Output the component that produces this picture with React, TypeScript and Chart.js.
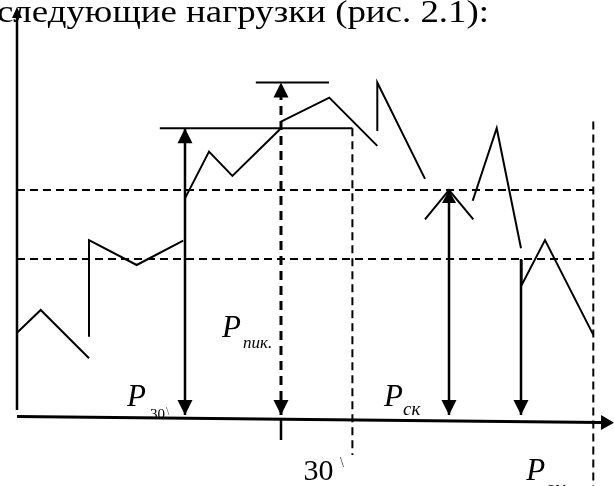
import React, { useEffect, useRef } from "react";
import { Chart, registerables } from "chart.js";

Chart.register(...registerables);

const TITLE = "следующие нагрузки (рис. 2.1):";

// Load graph P(t), drawn as separate pieces: [time, load]
const curveA = [[0, 27.9], [3.95, 35.5], [12, 19.4]];
const curveB = [[12, 26.6], [12, 58.8], [19.95, 50.5], [27.7, 58.6]];
const curveC = [[28, 72.7], [32, 88.3], [35.9, 80.2], [44, 96.1]];
const curveD = [[44, 98.3], [52.05, 106.3], [60.05, 90.2]];
const curveE = [[60.05, 95.2], [60.05, 111.3], [68, 79.2]];
const curveF = [[75.95, 71.9], [79.95, 96.1], [84, 56.1]];
const curveG = [[84.1, 52.2], [84.1, 43.8], [88, 58.8], [96.05, 27.2]];

// characteristic loads
const P_30 = 96.1;
const P_PEAK = 111.3;
const P_SK = 75.5;
const P_SM = 52.5;

// characteristic times
const T_P30 = 28;
const T_PEAK = 44;
const T_SK = 72;
const T_SM = 84;
const T_30MIN = 55.9;
const T_SHIFT = 96.05;

// extents of the reference lines
const P30_LINE_T = [23.8, 55.9];
const PEAK_LINE_T = [39.8, 52];
const SK_WINGS = [[68, 65.7], [72, 75.5], [76.05, 65.7]];
const SHIFT_LINE_TOP = 98.3;
const MIN30_LINE_BOTTOM = -12.8;
const PEAK_TICK = [-0.5, -7.8];
const ARROW_BASE = 0.5;

// axes
const X_AXIS_END = [99.5, -2.07];
const Y_AXIS_SPAN = [2.2, 136.5];

// scale bounds
const T_MIN = -2.8333;
const T_MAX = 99.5;
const P_MIN = -23.1667;
const P_MAX = 138.8333;

type Pt = number[];

function line(points: Pt[], width: number, dash: number[] = []) {
  return {
    data: points.map(([x, y]) => ({ x, y })),
    showLine: true,
    pointRadius: 0,
    pointHoverRadius: 0,
    borderColor: "#000",
    backgroundColor: "#000",
    borderWidth: width,
    borderDash: dash,
    borderCapStyle: "butt",
    borderJoinStyle: "miter",
    fill: false,
    tension: 0,
  };
}

const SERIF = "'Liberation Serif', 'Times New Roman', serif";

const overlay = {
  id: "overlay",
  beforeDatasetsDraw(chart: any) {
    const { ctx, scales } = chart;
    const X = (v: number) => scales.x.getPixelForValue(v);
    const Y = (v: number) => scales.y.getPixelForValue(v);
    ctx.save();
    ctx.fillStyle = "#000";
    ctx.textBaseline = "alphabetic";
    const put = (text: string, font: string, px: number, py: number, align = "left", color = "#000") => {
      ctx.font = font;
      ctx.textAlign = align;
      ctx.fillStyle = color;
      ctx.fillText(text, px, py);
    };
    // heading text (wide serif, spans from the left edge to x≈489)
    ctx.save();
    ctx.font = `31px ${SERIF}`;
    const w = ctx.measureText(TITLE).width;
    ctx.translate(chart.chartArea.left + 489, chart.chartArea.top + 22);
    ctx.scale(492 / w, 1);
    ctx.textAlign = "right";
    ctx.fillText(TITLE, 0, 0);
    ctx.restore();

    const big = `italic 31px ${SERIF}`;
    // P30'
    put("P", big, X(T_P30) - 58, Y(0) - 10.5);
    put("30", `15px ${SERIF}`, X(T_P30) - 35, Y(0) + 2.5);
    put("\\", `12px ${SERIF}`, X(T_P30) - 19, Y(0) - 1, "left", "#444");
    // P пик.
    put("P", big, X(T_PEAK) - 59, Y(0) - 79.5);
    put("пик.", `italic 17px ${SERIF}`, X(T_PEAK) - 38, Y(0) - 68.5);
    // P ск
    put("P", big, X(T_SK) - 65, Y(0) - 10);
    put("ск", `italic 19px ${SERIF}`, X(T_SK) - 46, Y(0) - 1);
    // 30'
    put("30", `30px ${SERIF}`, X(T_30MIN) - 49, Y(0) + 63.5);
    put("\\", `14px ${SERIF}`, X(T_30MIN) - 12.5, Y(0) + 50.5, "left", "#333");
    // P см
    put("P", big, X(T_SHIFT) - 67, Y(0) + 63.5);
    put("см", `italic 19px ${SERIF}`, X(T_SHIFT) - 48, Y(0) + 77.5);
    ctx.restore();
  },
  afterDatasetsDraw(chart: any) {
    const { ctx, scales } = chart;
    const X = (v: number) => scales.x.getPixelForValue(v);
    const Y = (v: number) => scales.y.getPixelForValue(v);
    const head = (tx: number, ty: number, dx: number, dy: number, len: number, hw: number) => {
      const n = Math.hypot(dx, dy);
      const ux = dx / n, uy = dy / n;
      const bx = tx - ux * len, by = ty - uy * len;
      ctx.beginPath();
      ctx.moveTo(tx, ty);
      ctx.lineTo(bx - uy * hw, by + ux * hw);
      ctx.lineTo(bx + uy * hw, by - ux * hw);
      ctx.closePath();
      ctx.fill();
    };
    ctx.save();
    ctx.fillStyle = "#000";
    // vertical double arrows
    head(X(T_P30), Y(P_30), 0, -1, 15, 7.5);
    head(X(T_P30), Y(ARROW_BASE), 0, 1, 15, 7.5);
    head(X(T_PEAK), Y(P_PEAK), 0, -1, 15, 7.5);
    head(X(T_PEAK), Y(ARROW_BASE), 0, 1, 15, 7.5);
    head(X(T_SK), Y(P_SK), 0, -1, 13, 7);
    head(X(T_SK), Y(ARROW_BASE), 0, 1, 15, 7.5);
    head(X(T_SM), Y(ARROW_BASE), 0, 1, 15, 7.5);
    // axes arrows
    const x0 = X(0), y0 = Y(0);
    const x1 = X(X_AXIS_END[0]), y1 = Y(X_AXIS_END[1]);
    head(x1, y1, x1 - x0, y1 - y0, 13, 7.5);
    head(X(0), Y(Y_AXIS_SPAN[1]), 0, -1, 11, 5);
    ctx.restore();
  },
};

export default function App() {
  const ref = useRef<HTMLCanvasElement | null>(null);
  useEffect(() => {
    if (!ref.current) return;
    const dash = [8, 5];
    const datasets: any[] = [
      // load graph
      ...[curveA, curveB, curveC, curveD, curveE, curveF, curveG].map((c) => line(c, 2)),
      // levels
      line([[P30_LINE_T[0], P_30], [P30_LINE_T[1], P_30]], 2),
      line([[PEAK_LINE_T[0], P_PEAK], [PEAK_LINE_T[1], P_PEAK]], 2),
      line([[0, P_SK], [T_SHIFT, P_SK]], 2, dash),
      line([[0, P_SM], [T_SHIFT, P_SM]], 2, dash),
      // time marks
      line([[T_30MIN, P_30], [T_30MIN, MIN30_LINE_BOTTOM]], 2, dash),
      line([[T_SHIFT, SHIFT_LINE_TOP], [T_SHIFT, P_MIN]], 2, dash),
      line([[T_PEAK, PEAK_TICK[0]], [T_PEAK, PEAK_TICK[1]]], 2.5),
      // arrows
      line([[T_P30, ARROW_BASE], [T_P30, P_30]], 2.5),
      line([[T_PEAK, ARROW_BASE], [T_PEAK, P_PEAK - 4]], 3, [9, 6]),
      line([[T_SK, ARROW_BASE], [T_SK, P_SK]], 2.5),
      line(SK_WINGS, 2),
      line([[T_SM, ARROW_BASE], [T_SM, P_SM]], 2.5),
      // axes
      line([[0, Y_AXIS_SPAN[0]], [0, Y_AXIS_SPAN[1] - 3]], 2.5),
      line([[0, 0], [X_AXIS_END[0] - 2, X_AXIS_END[1] + 0.04]], 3),
    ];
    const chart = new Chart(ref.current, {
      type: "scatter",
      data: { datasets },
      options: {
        animation: false,
        responsive: true,
        maintainAspectRatio: false,
        events: [],
        layout: { padding: 0 },
        plugins: { legend: { display: false }, tooltip: { enabled: false }, title: { display: false } },
        scales: {
          x: { type: "linear", display: false, min: T_MIN, max: T_MAX },
          y: { type: "linear", display: false, min: P_MIN, max: P_MAX },
        },
      },
      plugins: [overlay],
    } as any);
    return () => chart.destroy();
  }, []);
  return (
    <div style={{ position: "fixed", left: 0, top: 0, width: 614, height: 486, background: "#fff" }}>
      <canvas ref={ref} />
    </div>
  );
}
